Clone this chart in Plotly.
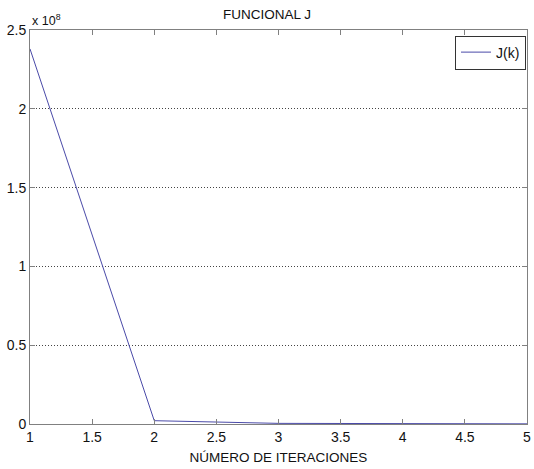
import plotly.graph_objects as go

# Functional value J(k) at each iteration
iterations = [1, 2, 3, 4, 5]
j_values = [2.38e8, 2.1e6, 4.0e5, 2.0e5, 1.0e5]

x_ticks = [1, 1.5, 2, 2.5, 3, 3.5, 4, 4.5, 5]
x_tick_text = ["1", "1.5", "2", "2.5", "3", "3.5", "4", "4.5", "5"]
y_ticks = [0, 0.5e8, 1.0e8, 1.5e8, 2.0e8, 2.5e8]
y_tick_text = ["0", "0.5", "1", "1.5", "2", "2.5"]

font = dict(family="Liberation Sans, Arial, sans-serif", size=14, color="#111111")
axis_color = "#808080"

fig = go.Figure()
fig.add_trace(go.Scatter(
    x=iterations, y=j_values, mode="lines", name="J(k)",
    line=dict(color="#4a4aa8", width=1),
))

fig.update_layout(
    width=534, height=469,
    margin=dict(l=30, r=7, t=30, b=45, autoexpand=False),
    paper_bgcolor="white", plot_bgcolor="white",
    font=font,
    title=dict(text="FUNCIONAL J", x=0.5, xanchor="center", y=0.98, yanchor="top",
               font=dict(size=13.5)),
    showlegend=True,
    legend=dict(x=0.998, y=0.986, xanchor="right", yanchor="top",
                bordercolor="#333333", borderwidth=1, bgcolor="white",
                font=dict(size=14), itemwidth=30),
)

fig.update_xaxes(
    range=[1, 5], tickvals=x_ticks, ticktext=x_tick_text,
    showgrid=False, zeroline=False, automargin=False,
    showline=True, linecolor=axis_color, linewidth=1, mirror="ticks",
    ticks="inside", ticklen=5, tickcolor=axis_color,
    title=dict(text="NÚMERO DE ITERACIONES", font=dict(size=13.5), standoff=8),
)
fig.update_yaxes(
    range=[0, 2.5e8], tickvals=y_ticks, ticktext=y_tick_text,
    showgrid=True, gridcolor="#444444", griddash="1px,2px", gridwidth=1,
    zeroline=False, automargin=False,
    showline=True, linecolor=axis_color, linewidth=1, mirror="ticks",
    ticks="inside", ticklen=5, tickcolor=axis_color,
)

fig.add_annotation(
    text="x 10<sup>8</sup>", xref="paper", yref="paper", x=0, y=1,
    xanchor="left", yanchor="bottom", showarrow=False,
    font=dict(size=12.5), yshift=0,
)

fig.write_html("out.html")
